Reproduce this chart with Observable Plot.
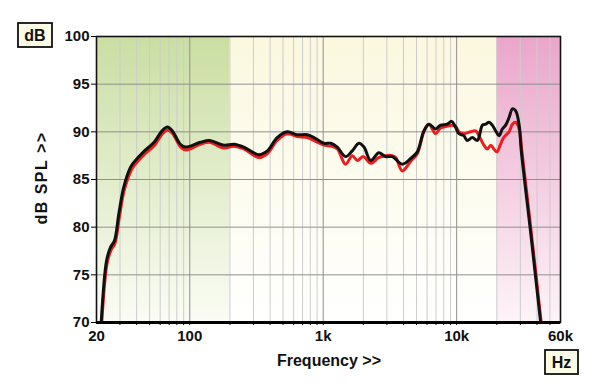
<!DOCTYPE html>
<html>
<head>
<meta charset="utf-8">
<script src="https://cdn.jsdelivr.net/npm/d3@7"></script>
<script src="https://cdn.jsdelivr.net/npm/@observablehq/plot@0.6"></script>
<style>
  html, body { margin: 0; padding: 0; background: #fff; }
  svg { font-family: "Liberation Sans", Arial, sans-serif; }
</style>
</head>
<body>
<div id="chart"></div>
<script>
// ---- data ----
const blackFreq = [21.7, 23.8, 25.5, 27.3, 29.4, 32, 36, 38.1, 45, 54, 62, 68, 74, 85, 93, 120, 140, 180, 214, 254, 329, 381, 452, 538, 639, 760, 876, 1010, 1140, 1275, 1470, 1650, 1850, 2020, 2270, 2610, 2930, 3290, 3910, 4520, 5070, 5680, 6200, 6950, 7580, 8510, 9170, 9800, 10400, 11300, 12000, 13100, 14300, 15600, 16500, 17500, 18500, 19600, 20800, 22000, 23300, 24700, 26200, 27700, 29400, 30500, 35800, 42600];
const blackDb = [70, 76.5, 77.9, 78.6, 81.4, 84.2, 86.3, 86.8, 87.9, 88.9, 90.1, 90.5, 90.1, 88.7, 88.4, 88.9, 89.1, 88.6, 88.7, 88.4, 87.6, 88.0, 89.4, 90.0, 89.7, 89.7, 89.3, 88.8, 88.8, 88.4, 87.4, 88.0, 88.8, 88.4, 87.0, 87.8, 87.4, 87.4, 86.6, 87.2, 87.9, 90.1, 90.8, 90.3, 90.7, 90.8, 91.1, 90.5, 89.8, 89.6, 89.1, 89.4, 89.1, 90.7, 90.8, 91.0, 90.7, 90.1, 89.6, 90.3, 90.7, 91.5, 92.4, 92.2, 90.7, 88.0, 79.5, 70];

const redFreq = [21.9, 24, 25.7, 27.5, 29.7, 32.3, 36.5, 38.5, 45.5, 54.5, 62.5, 68.5, 74.5, 85.5, 93.5, 120, 140, 180, 214, 254, 329, 381, 452, 538, 639, 760, 876, 1010, 1140, 1275, 1470, 1650, 1800, 2000, 2270, 2600, 2930, 3290, 3500, 3910, 4520, 5070, 5680, 6200, 6950, 7580, 8510, 9170, 9800, 10400, 11300, 12700, 13900, 14700, 16000, 17000, 18000, 19000, 20000, 21200, 22500, 24700, 26200, 27700, 29400, 30800, 36200, 43000];
const redDb = [70, 76.2, 77.6, 78.3, 81.1, 83.9, 86.0, 86.5, 87.6, 88.6, 89.8, 90.2, 89.8, 88.4, 88.1, 88.7, 88.9, 88.3, 88.5, 88.2, 87.3, 87.7, 89.1, 89.8, 89.5, 89.4, 89.0, 88.6, 88.5, 88.2, 86.6, 87.5, 87.0, 87.4, 86.7, 87.3, 87.5, 87.5, 87.3, 85.9, 86.9, 87.7, 90.0, 90.8, 89.8, 90.4, 90.6, 90.7, 90.6, 90.0, 89.8, 90.0, 90.1, 89.6, 88.6, 88.2, 88.6, 88.2, 87.9, 88.6, 89.4, 90.0, 90.8, 91.0, 90.3, 88.0, 79.5, 70];

const majorTicks = [20, 100, 1000, 10000, 60000];
const majorLabels = ["20", "100", "1k", "10k", "60k"];
const majorGrid = [100, 1000, 10000];
const minorGrid = [30, 40, 50, 60, 70, 80, 90, 200, 300, 400, 500, 600, 700, 800, 900, 2000, 3000, 4000, 5000, 6000, 7000, 8000, 9000, 20000, 30000, 40000, 50000];
const yTicks = [70, 75, 80, 85, 90, 95, 100];
const yGrid = [75, 80, 85, 90, 95];

const zoneStart = [20, 200, 20000];
const zoneEnd = [200, 20000, 60000];
const zoneTop = ["#cadea2", "#fbf8df", "#eaa6ca"];
const zoneBottom = ["#fbfcf5", "#ffffff", "#fdf4f8"];

const blackData = blackFreq.map((f, i) => ({f, db: blackDb[i]}));
const redData = redFreq.map((f, i) => ({f, db: redDb[i]}));
const xLabelData = majorTicks.map((f, i) => ({f, label: majorLabels[i]}));

const zoneMarks = zoneStart.map((s, i) =>
  Plot.rectY([{x1: s, x2: zoneEnd[i]}], {x1: "x1", x2: "x2", y1: 70, y2: 100, fill: `url(#zone${i})`})
);

const chart = Plot.plot({
  width: 600,
  height: 389,
  marginLeft: 96,
  marginRight: 40,
  marginTop: 36,
  marginBottom: 67,
  style: {fontFamily: "'Liberation Sans', Arial, sans-serif", background: "#fff"},
  x: {type: "log", domain: [20, 60000]},
  y: {domain: [70, 100]},
  marks: [
    ...zoneMarks,
    Plot.ruleX(minorGrid, {stroke: "#cccccc", strokeWidth: 1}),
    Plot.ruleX(majorGrid, {stroke: "#8f8f8f", strokeWidth: 1}),
    Plot.ruleY(yGrid, {stroke: "#8f8f8f", strokeWidth: 1}),
    Plot.line(redData, {x: "f", y: "db", stroke: "#ee1c1c", strokeWidth: 3, curve: "catmull-rom", clip: true}),
    Plot.line(blackData, {x: "f", y: "db", stroke: "#111", strokeWidth: 3, curve: "catmull-rom", clip: true}),
    Plot.frame({stroke: "#111", strokeWidth: 1.6}),
    Plot.ruleY([70], {stroke: "#000", strokeWidth: 3}),
    Plot.axisX(minorGrid.concat(majorGrid), {tickSize: 3, tickFormat: () => "", label: null}),
    Plot.text(xLabelData, {x: "f", text: "label", frameAnchor: "bottom", dy: 18, fontSize: 15, fontWeight: "bold", fill: "#111"}),
    Plot.axisY(yTicks, {tickSize: 5, tickPadding: 2, fontSize: 15, fontWeight: "bold", fill: "#111", label: null})
  ]
});

const svg = d3.select(chart);
const defs = svg.insert("defs", ":first-child");
zoneTop.forEach((c, i) => {
  const g = defs.append("linearGradient").attr("id", `zone${i}`).attr("x1", 0).attr("y1", 0).attr("x2", 0).attr("y2", 1);
  g.append("stop").attr("offset", "0%").attr("stop-color", c);
  g.append("stop").attr("offset", "100%").attr("stop-color", zoneBottom[i]);
});

// axis titles
svg.append("text")
  .attr("x", 329).attr("y", 366)
  .attr("text-anchor", "middle")
  .attr("font-size", 16).attr("font-weight", "bold").attr("fill", "#111")
  .text("Frequency >>");
svg.append("text")
  .attr("transform", "translate(47,178) rotate(-90)")
  .attr("text-anchor", "middle")
  .attr("font-size", 16).attr("font-weight", "bold").attr("fill", "#111")
  .attr("letter-spacing", 1.5)
  .text("dB SPL >>");

// unit boxes
function unitBox(x, y, w, h, label) {
  svg.append("rect").attr("x", x).attr("y", y).attr("width", w).attr("height", h)
    .attr("fill", "#fbfbe6").attr("stroke", "#111").attr("stroke-width", 1.8);
  svg.append("text").attr("x", x + w / 2).attr("y", y + h / 2 + 5.5)
    .attr("text-anchor", "middle").attr("font-size", 16).attr("font-weight", "bold").attr("fill", "#111")
    .text(label);
}
unitBox(18, 23, 34, 24, "dB");
unitBox(545, 350, 33, 24, "Hz");

document.getElementById("chart").appendChild(chart);
</script>
</body>
</html>
